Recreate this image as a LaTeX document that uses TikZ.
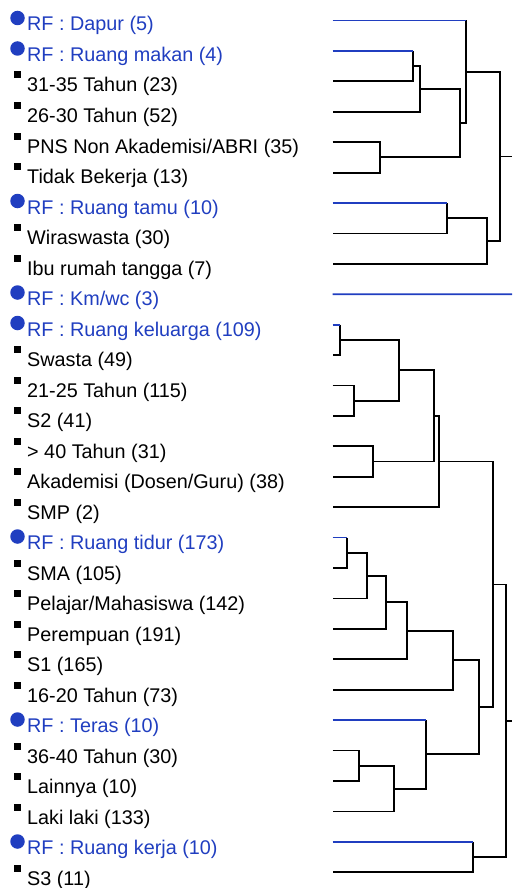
\documentclass[tikz,border=0pt]{standalone}
\usepackage{fontspec}
\setmainfont{Liberation Sans}
\definecolor{rfblue}{RGB}{32,62,192}
\begin{document}
\begin{tikzpicture}[x=1pt,y=-1pt,
  lab/.style={anchor=base west,inner sep=0pt,font=\fontsize{19.8}{24}\selectfont},
  rf/.style={lab,text=rfblue},
  cat/.style={lab,text=black},
  dot/.style={circle,fill=rfblue,draw=none,minimum size=14.5pt,inner sep=0pt},
  sq/.style={rectangle,fill=black,draw=none,minimum size=7pt,inner sep=0pt},
  dend/.style={draw=black,line width=1.8pt},
  bl/.style={draw=rfblue,line width=1.7pt}]
\useasboundingbox (0,0) rectangle (512,888);
% labels
\node[rf]  (t1)  at (27,31)    {RF : Dapur (5)};
\node[rf]  (t2)  at (27,61.5)  {RF : Ruang makan (4)};
\node[cat] (t3)  at (27,92)    {31-35 Tahun (23)};
\node[cat] (t4)  at (27,122.5) {26-30 Tahun (52)};
\node[cat] (t5)  at (27,153)   {PNS Non Akademisi/ABRI (35)};
\node[cat] (t6)  at (27,183.5) {Tidak Bekerja (13)};
\node[rf]  (t7)  at (27,214)   {RF : Ruang tamu (10)};
\node[cat] (t8)  at (27,244.5) {Wiraswasta (30)};
\node[cat] (t9)  at (27,275)   {Ibu rumah tangga (7)};
\node[rf]  (t10) at (27,305.5) {RF : Km/wc (3)};
\node[rf]  (t11) at (27,336)   {RF : Ruang keluarga (109)};
\node[cat] (t12) at (27,366.5) {Swasta (49)};
\node[cat] (t13) at (27,397)   {21-25 Tahun (115)};
\node[cat] (t14) at (27,427.5) {S2 (41)};
\node[cat] (t15) at (27,458)   {> 40 Tahun (31)};
\node[cat] (t16) at (27,488.5) {Akademisi (Dosen/Guru) (38)};
\node[cat] (t17) at (27,519)   {SMP (2)};
\node[rf]  (t18) at (27,549.5) {RF : Ruang tidur (173)};
\node[cat] (t19) at (27,580)   {SMA (105)};
\node[cat] (t20) at (27,610.5) {Pelajar/Mahasiswa (142)};
\node[cat] (t21) at (27,641)   {Perempuan (191)};
\node[cat] (t22) at (27,671.5) {S1 (165)};
\node[cat] (t23) at (27,702)   {16-20 Tahun (73)};
\node[rf]  (t24) at (27,732.5) {RF : Teras (10)};
\node[cat] (t25) at (27,763)   {36-40 Tahun (30)};
\node[cat] (t26) at (27,793.5) {Lainnya (10)};
\node[cat] (t27) at (27,824)   {Laki laki (133)};
\node[rf]  (t28) at (27,854.5) {RF : Ruang kerja (10)};
\node[cat] (t29) at (27,885)   {S3 (11)};
% markers
\foreach \i in {1,2,7,10,11,18,24,28}
  \node[dot] (k\i) at ([xshift=-9.5pt,yshift=13pt]t\i.base west) {};
\foreach \i in {3,4,5,6,8,9,12,13,14,15,16,17,19,20,21,22,23,25,26,27,29}
  \node[sq] (k\i) at ([xshift=-9.5pt,yshift=17pt]t\i.base west) {};
% leaf ends
\foreach \i in {1,...,29}
  \coordinate (l\i) at (332.5,{20.5+(\i-1)*30.42});
% merge points
\coordinate (ma23)   at (412.7,66.13);
\coordinate (ma234)  at (420,88.95);
\coordinate (ma56)   at (380.3,157.39);
\coordinate (mA)     at (460.3,123.17);
\coordinate (mB)     at (466,71.84);
\coordinate (ma78)   at (446.7,218.23);
\coordinate (ma789)  at (487,241.05);
\coordinate (mC)     at (500.3,156.44);
\coordinate (r1)     at (512,156.44);
\coordinate (r10)    at (512,294.28);
\coordinate (mb1112) at (340,339.91);
\coordinate (mb1314) at (353.7,400.75);
\coordinate (mD)     at (399.3,370.33);
\coordinate (mb1516) at (372.7,461.59);
\coordinate (mE)     at (433.7,415.96);
\coordinate (mF)     at (439.3,461.59);
\coordinate (mc1819) at (346.7,552.85);
\coordinate (mc20)   at (367,575.67);
\coordinate (mc21)   at (386,602.28);
\coordinate (mc22)   at (407,630.8);
\coordinate (mc23)   at (452.7,660.27);
\coordinate (md2526) at (359.3,765.79);
\coordinate (md27)   at (393.7,788.6);
\coordinate (mG)     at (426,754.38);
\coordinate (mH)     at (479.3,707.33);
\coordinate (mI)     at (492.7,584.46);
\coordinate (me2829) at (473.3,857.05);
\coordinate (mJ)     at (506,720.76);
\coordinate (r2)     at (512,720.76);
% upper cluster
\draw[dend] (l2 -| ma23) -- (ma23) |- (l3);
\draw[dend] (ma23) -| (ma234) |- (l4);
\draw[dend] (l5) -| (ma56) |- (l6);
\draw[dend] (ma234) -| (mA) |- (ma56);
\draw[dend] (l1 -| mB) -- (mB) |- (mA);
\draw[dend] (l7 -| ma78) -- (ma78) |- (l8);
\draw[dend] (ma78) -| (ma789) |- (l9);
\draw[dend] (mB) -| (mC) |- (ma789);
\draw[dend] (mC) -- (r1);
\draw[bl] (l1) -- (l1 -| mB);
\draw[bl] (l2) -- (l2 -| ma23);
\draw[bl] (l7) -- (l7 -| ma78);
\draw[bl] (l10) -- (r10);
% lower cluster
\draw[dend] (l11 -| mb1112) -- (mb1112) |- (l12);
\draw[dend] (l13) -| (mb1314) |- (l14);
\draw[dend] (mb1112) -| (mD) |- (mb1314);
\draw[dend] (l15) -| (mb1516) |- (l16);
\draw[dend] (mD) -| (mE) |- (mb1516);
\draw[dend] (mE) -| (mF) |- (l17);
\draw[dend] (l18 -| mc1819) -- (mc1819) |- (l19);
\draw[dend] (mc1819) -| (mc20) |- (l20);
\draw[dend] (mc20) -| (mc21) |- (l21);
\draw[dend] (mc21) -| (mc22) |- (l22);
\draw[dend] (mc22) -| (mc23) |- (l23);
\draw[dend] (l25) -| (md2526) |- (l26);
\draw[dend] (md2526) -| (md27) |- (l27);
\draw[dend] (l24 -| mG) -- (mG) |- (md27);
\draw[dend] (mc23) -| (mH) |- (mG);
\draw[dend] (mF) -| (mI) |- (mH);
\draw[dend] (l28 -| me2829) -- (me2829) |- (l29);
\draw[dend] (mI) -| (mJ) |- (me2829);
\draw[dend] (mJ) -- (r2);
\draw[bl] (l11) -- (l11 -| mb1112);
\draw[bl] (l18) -- (l18 -| mc1819);
\draw[bl] (l24) -- (l24 -| mG);
\draw[bl] (l28) -- (l28 -| me2829);
\end{tikzpicture}
\end{document}
